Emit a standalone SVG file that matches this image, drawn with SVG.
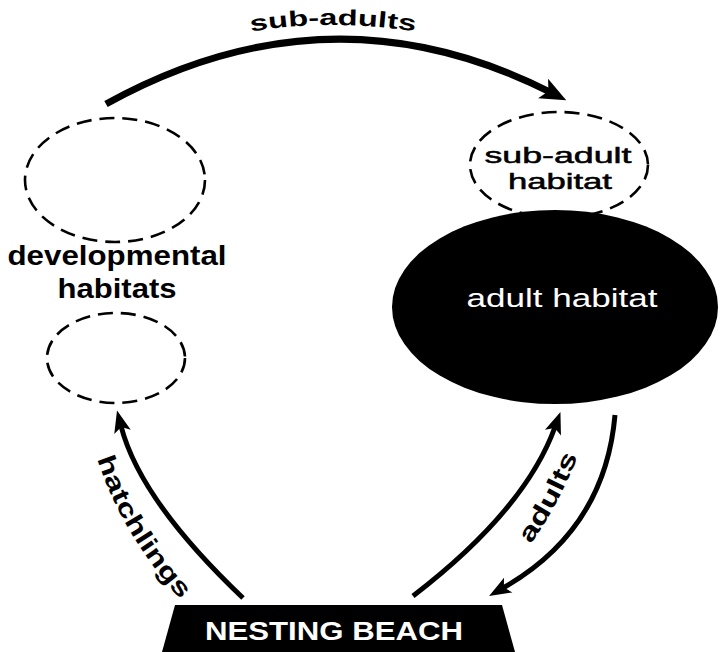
<svg xmlns="http://www.w3.org/2000/svg" width="720" height="652" viewBox="0 0 720 652">
<style>
.dash{fill:none;stroke:#000;stroke-width:2.6;stroke-dasharray:15 8}
.lbl{font-family:"Liberation Sans",Arial,Helvetica,sans-serif;font-weight:bold;fill:#000}
.reg{font-family:"Liberation Sans",Arial,Helvetica,sans-serif;fill:#000}
.wht{font-family:"Liberation Sans",Arial,Helvetica,sans-serif;fill:#fff}
.arr{fill:none;stroke:#000;stroke-width:5}
</style>
<defs>
<marker id="ahBig" markerUnits="userSpaceOnUse" viewBox="-2 -14 34 28" markerWidth="34" markerHeight="28" refX="10" refY="0" orient="auto">
<path d="M0,-11 L26,0 L0,11 L6,0 Z" fill="#000"/>
</marker>
<marker id="ah" markerUnits="userSpaceOnUse" viewBox="-2 -12 28 24" markerWidth="28" markerHeight="24" refX="6" refY="0" orient="auto">
<path d="M0,-8.5 L22,0 L0,8.5 L5,0 Z" fill="#000"/>
</marker>
<path id="tpSub" d="M200,42 Q333,8 466,42"/>
<path id="tpHatch" d="M88,425 Q112,535 205,625"/>
<path id="tpAdults" d="M505,577 Q562,512 592,417"/>
</defs>

<g id="developmental-habitat-top">
<ellipse class="dash" cx="115" cy="180" rx="90" ry="62"/>
</g>
<g id="developmental-habitat-bottom">
<ellipse class="dash" cx="116" cy="358" rx="69" ry="45"/>
</g>
<g id="developmental-label">
<text class="lbl" font-size="27" text-anchor="middle" x="117" y="265" textLength="219" lengthAdjust="spacingAndGlyphs">developmental</text>
<text class="lbl" font-size="27" text-anchor="middle" x="117" y="298" textLength="119" lengthAdjust="spacingAndGlyphs">habitats</text>
</g>
<g id="sub-adult-habitat">
<ellipse class="dash" cx="559" cy="165" rx="89" ry="53"/>
<text class="reg" font-size="22" stroke="#000" stroke-width="0.5" text-anchor="middle" x="558" y="163" textLength="147" lengthAdjust="spacingAndGlyphs">sub-adult</text>
<text class="reg" font-size="22" stroke="#000" stroke-width="0.5" text-anchor="middle" x="560" y="189" textLength="104" lengthAdjust="spacingAndGlyphs">habitat</text>
</g>
<g id="adult-habitat">
<ellipse cx="555" cy="307" rx="163" ry="97" fill="#000"/>
<text class="wht" font-size="25" text-anchor="middle" x="562" y="307" textLength="191" lengthAdjust="spacingAndGlyphs">adult habitat</text>
</g>
<g id="nesting-beach">
<polygon points="175,605 502,605 515,652 162,652" fill="#000"/>
<text class="wht" font-size="25" font-weight="bold" text-anchor="middle" x="334" y="640" textLength="258" lengthAdjust="spacingAndGlyphs">NESTING BEACH</text>
</g>

<g id="connectors">
<path d="M106,104 Q330,-20 552,93" fill="none" stroke="#000" stroke-width="7" marker-end="url(#ahBig)"/>
<path class="arr" d="M243,598 Q140,500 121,426" marker-end="url(#ah)"/>
<path class="arr" d="M413,596 Q525,510 555,427" marker-end="url(#ah)"/>
<path class="arr" d="M615,415 Q605,530 503,588" marker-end="url(#ah)"/>
<text class="lbl" font-size="22"><textPath href="#tpSub" startOffset="50%" text-anchor="middle" textLength="165" lengthAdjust="spacingAndGlyphs">sub-adults</textPath></text>
<text class="lbl" font-size="25"><textPath href="#tpHatch" startOffset="50%" text-anchor="middle" textLength="165" lengthAdjust="spacingAndGlyphs">hatchlings</textPath></text>
<text class="lbl" font-size="25"><textPath href="#tpAdults" startOffset="50%" text-anchor="middle" textLength="100" lengthAdjust="spacingAndGlyphs">adults</textPath></text>
</g>
</svg>
